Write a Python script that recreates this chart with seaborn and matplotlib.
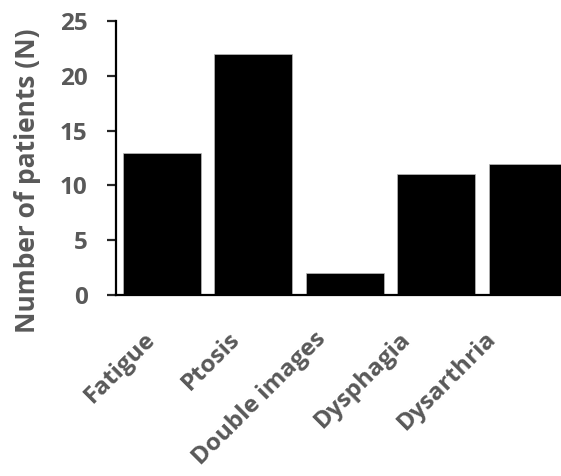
import matplotlib
matplotlib.use("Agg")
import matplotlib.pyplot as plt
import matplotlib.transforms as mtrans
import seaborn as sns
import pandas as pd

symptoms = ["Fatigue", "Ptosis", "Double images", "Dysphagia", "Dysarthria"]
patients = [13, 22, 2, 11, 12]
yticks = [0, 5, 10, 15, 20, 25]

sns.set_theme(style="ticks")
plt.rcParams["font.family"] = ["Open Sans", "DejaVu Sans"]
grey = "#595959"

df = pd.DataFrame({"symptom": symptoms, "n": patients})

fig = plt.figure(figsize=(5.61, 4.76), dpi=100)
ax = fig.add_axes([0.2068, 0.3796, 0.8155, 0.5769])
sns.barplot(data=df, x="symptom", y="n", color="black", width=0.85,
            saturation=1, edgecolor="#bbbbbb", linewidth=0.5, ax=ax)

ax.set_xlim(-0.5, 4.5)
ax.set_ylim(0, 25)
ax.set_yticks(yticks)
ax.set_xlabel("")
ax.set_ylabel("Number of patients (N)", fontsize=19, fontweight="bold", color=grey)
ax.yaxis.set_label_coords(-0.164, 0.416)
for s in ["top", "right"]:
    ax.spines[s].set_visible(False)
for s in ["left", "bottom"]:
    ax.spines[s].set_linewidth(1.6)
    ax.spines[s].set_color("black")
ax.tick_params(axis="y", length=6.5, width=1.6, labelsize=17.5, labelcolor=grey, pad=14)
ax.tick_params(axis="x", length=0, labelsize=17.5, labelcolor=grey, pad=29)
for lbl in ax.get_yticklabels():
    lbl.set_fontweight("bold")
# labels sit a bit left of the bar centres, drifting further left to the right
for i, lbl in enumerate(ax.get_xticklabels()):
    lbl.set_fontweight("bold")
    lbl.set_rotation(45)
    lbl.set_ha("right")
    lbl.set_va("center")
    lbl.set_rotation_mode("anchor")
    shift = mtrans.ScaledTranslation(-(10 + 6.3 * i) / 100, 0, fig.dpi_scale_trans)
    lbl.set_transform(lbl.get_transform() + shift)

fig.savefig("out.png", dpi=100)
